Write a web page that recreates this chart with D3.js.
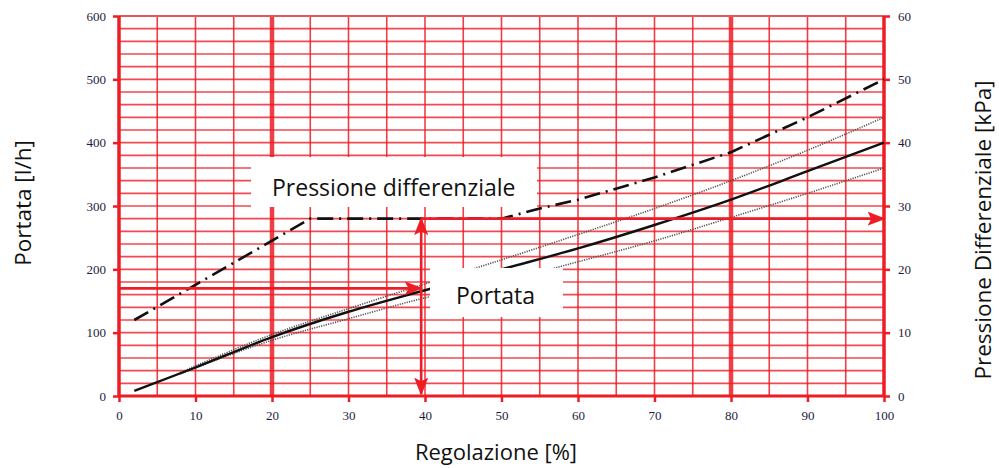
<!DOCTYPE html>
<html>
<head>
<meta charset="utf-8">
<script src="https://cdn.jsdelivr.net/npm/d3@7"></script>
<style>
  body { margin: 0; background: #fff; }
  svg { display: block; }
</style>
</head>
<body>
<svg width="999" height="468"></svg>
<script>
// valori
var regolazione = [2, 10, 20, 30, 40, 50, 60, 70, 80, 90, 100];
var portata = [8, 45, 93, 133, 167, 200, 233, 270, 310, 355, 400];

var regolazioneToll = [8, 20, 30, 40, 50, 60, 70, 80, 90, 100];
var portataMax = [37, 97, 138, 177, 215, 255, 296, 340, 388, 440];
var portataMin = [35, 88, 122, 155, 180, 212, 245, 282, 320, 360];

var regolazionePress = [2, 25, 50, 55, 60, 70, 80, 90, 100];
var pressione = [12, 28, 28, 29.6, 31, 34.5, 38.5, 44, 50];

var xTicks = [0, 10, 20, 30, 40, 50, 60, 70, 80, 90, 100];
var yTicks = [0, 100, 200, 300, 400, 500, 600];
var yRTicks = [0, 10, 20, 30, 40, 50, 60];

// punto di lettura (esempio)
var letturaX = 39.5, letturaPortata = 170, letturaPress = 28;

var red = "#ee1c25";
var svg = d3.select("svg");

var x = d3.scaleLinear().domain([0, 100]).range([119, 884]);
var y = d3.scaleLinear().domain([0, 600]).range([396, 16]);
var yR = d3.scaleLinear().domain([0, 60]).range([396, 16]);

// griglia
var grid = svg.append("g");
grid.selectAll("line.v")
    .data(d3.range(5, 100, 5))
    .enter().append("line")
    .attr("x1", function(d) { return x(d); })
    .attr("x2", function(d) { return x(d); })
    .attr("y1", y(0)).attr("y2", y(600))
    .attr("stroke", red)
    .attr("stroke-opacity", 0.85)
    .attr("stroke-width", function(d) { return (d == 20 || d == 80) ? 4.5 : 1.6; });
grid.selectAll("line.h")
    .data(d3.range(20, 600, 20))
    .enter().append("line")
    .attr("y1", function(d) { return y(d); })
    .attr("y2", function(d) { return y(d); })
    .attr("x1", x(0)).attr("x2", x(100))
    .attr("stroke", red)
    .attr("stroke-opacity", 0.8)
    .attr("stroke-width", 1.6);

// cornice
svg.append("line").attr("x1", x(0)).attr("x2", x(100)).attr("y1", y(600)).attr("y2", y(600))
    .attr("stroke", "#e85560").attr("stroke-width", 2);
svg.append("line").attr("x1", x(0)).attr("x2", x(100)).attr("y1", y(0)).attr("y2", y(0))
    .attr("stroke", red).attr("stroke-width", 3);
svg.append("line").attr("x1", x(0)).attr("x2", x(0)).attr("y1", y(0)).attr("y2", y(600))
    .attr("stroke", red).attr("stroke-width", 3.5);
svg.append("line").attr("x1", x(100)).attr("x2", x(100)).attr("y1", y(0)).attr("y2", y(600))
    .attr("stroke", red).attr("stroke-width", 3.5);

// assi
function styleAxis(g) {
    g.select(".domain").remove();
    g.selectAll(".tick line").attr("stroke", red).attr("stroke-width", 2.5);
    g.selectAll(".tick text")
        .attr("fill", "#1c1c40")
        .style("font-family", "'Liberation Serif', serif")
        .style("font-size", "13px");
}
svg.append("g").attr("transform", "translate(0," + y(0) + ")")
    .call(d3.axisBottom(x).tickValues(xTicks).tickSize(6).tickPadding(9))
    .call(styleAxis);
svg.append("g").attr("transform", "translate(" + x(0) + ",0)")
    .call(d3.axisLeft(y).tickValues(yTicks).tickSize(6).tickPadding(7))
    .call(styleAxis);
svg.append("g").attr("transform", "translate(" + x(100) + ",0)")
    .call(d3.axisRight(yR).tickValues(yRTicks).tickSize(6).tickPadding(8))
    .call(styleAxis);

// curve
var linePortata = d3.line()
    .x(function(d) { return x(d[0]); })
    .y(function(d) { return y(d[1]); })
    .curve(d3.curveMonotoneX);
var linePress = d3.line()
    .x(function(d) { return x(d[0]); })
    .y(function(d) { return yR(d[1]); });

svg.append("path")
    .attr("d", linePortata(d3.zip(regolazioneToll, portataMax)))
    .attr("fill", "none").attr("stroke", "#555").attr("stroke-width", 1.6)
    .attr("stroke-dasharray", "1.2,1.2");
svg.append("path")
    .attr("d", linePortata(d3.zip(regolazioneToll, portataMin)))
    .attr("fill", "none").attr("stroke", "#555").attr("stroke-width", 1.6)
    .attr("stroke-dasharray", "1.2,1.2");
svg.append("path")
    .attr("d", linePortata(d3.zip(regolazione, portata)))
    .attr("fill", "none").attr("stroke", "#111").attr("stroke-width", 2.4);
svg.append("path")
    .attr("d", linePress(d3.zip(regolazionePress, pressione)))
    .attr("fill", "none").attr("stroke", "#111").attr("stroke-width", 2.6)
    .attr("stroke-dasharray", "16,6,2,6");

// frecce
var defs = svg.append("defs");
defs.append("marker").attr("id", "head")
    .attr("viewBox", "0 0 10 10").attr("refX", 9).attr("refY", 5)
    .attr("markerWidth", 7).attr("markerHeight", 5.4)
    .attr("markerUnits", "strokeWidth")
    .attr("orient", "auto-start-reverse")
    .attr("preserveAspectRatio", "none")
    .append("path").attr("d", "M0,0 L10,5 L0,10 L2,5 Z").attr("fill", red);

function arrow(x1, y1, x2, y2, both) {
    var l = svg.append("line")
        .attr("x1", x1).attr("y1", y1).attr("x2", x2).attr("y2", y2)
        .attr("stroke", red).attr("stroke-width", 2.6)
        .attr("marker-end", "url(#head)");
    if (both) l.attr("marker-start", "url(#head)");
}
arrow(x(0), y(letturaPortata), x(letturaX), y(letturaPortata));
arrow(x(letturaX), y(0) - 2, x(letturaX), yR(letturaPress), true);
arrow(x(letturaX), yR(letturaPress), x(100), yR(letturaPress));

// etichette con sfondo bianco
var font = "'Open Sans', sans-serif";
svg.append("rect").attr("x", 251).attr("y", 157).attr("width", 286).attr("height", 50).attr("fill", "#fff");
svg.append("text").attr("x", 272).attr("y", 196)
    .text("Pressione differenziale")
    .style("font-family", font).style("font-size", "23px").attr("fill", "#111");

svg.append("rect").attr("x", 430).attr("y", 268).attr("width", 133).attr("height", 49).attr("fill", "#fff");
svg.append("text").attr("x", 456).attr("y", 304)
    .text("Portata")
    .style("font-family", font).style("font-size", "23px").attr("fill", "#111");

// titoli degli assi
svg.append("text")
    .attr("transform", "translate(31,203) rotate(-90)")
    .attr("text-anchor", "middle")
    .text("Portata [l/h]")
    .style("font-family", font).style("font-size", "22.5px").attr("fill", "#111");
svg.append("text")
    .attr("transform", "translate(991,230) rotate(-90)")
    .attr("text-anchor", "middle")
    .text("Pressione Differenziale [kPa]")
    .style("font-family", font).style("font-size", "22.5px").attr("fill", "#111");
svg.append("text")
    .attr("x", 496).attr("y", 460)
    .attr("text-anchor", "middle")
    .text("Regolazione [%]")
    .style("font-family", font).style("font-size", "22px").attr("fill", "#111");
</script>
</body>
</html>
